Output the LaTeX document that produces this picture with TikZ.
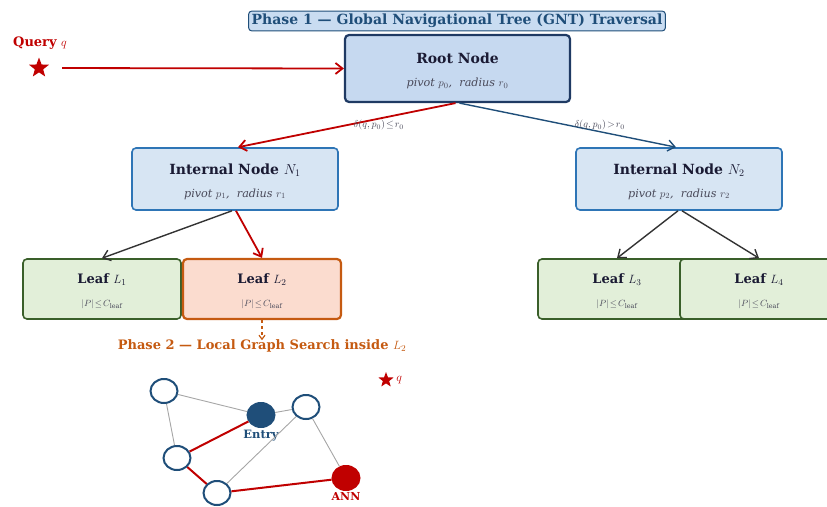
\documentclass[tikz,border=0pt]{standalone}
\usepackage{fontspec}
\setmainfont{DejaVu Serif}
\usepackage{tikz}
\usetikzlibrary{positioning, shapes.geometric, arrows.meta}
\definecolor{navy}{HTML}{1F4E79}
\definecolor{deepnavy}{HTML}{1F3A63}
\definecolor{midblue}{HTML}{2E75B6}
\definecolor{titlefill}{HTML}{C9DCF1}
\definecolor{rootfill}{HTML}{C6D9F0}
\definecolor{intfill}{HTML}{D7E5F3}
\definecolor{leafgreen}{HTML}{3A5F2A}
\definecolor{leaffill}{HTML}{E2EFD9}
\definecolor{hitorange}{HTML}{C55A11}
\definecolor{hitfill}{HTML}{FBDCCF}
\definecolor{qred}{HTML}{C00000}
\definecolor{inktext}{HTML}{1A1A33}
\definecolor{subtext}{HTML}{4A4A5A}
\definecolor{darkline}{HTML}{333333}
\tikzset{
    treenode/.style={draw, rectangle, rounded corners=4pt, align=center, inner sep=0pt},
    titlebox/.style={draw=navy, fill=titlefill, rounded corners=3pt, line width=1pt, text=navy, inner xsep=3pt, inner ysep=3pt, font=\fontsize{14}{16}\selectfont\bfseries},
    rootbox/.style={treenode, fill=rootfill, draw=deepnavy, line width=2.2pt, minimum width=225pt, minimum height=67pt},
    innerbox/.style={treenode, fill=intfill, draw=midblue, line width=1.6pt, minimum width=206pt, minimum height=62pt},
    leafbox/.style={treenode, fill=leaffill, draw=leafgreen, line width=1.6pt, minimum width=158pt, minimum height=60pt},
    hitbox/.style={leafbox, fill=hitfill, draw=hitorange, line width=2.2pt},
    gnode/.style={draw=navy, ellipse, fill=white, line width=2pt, minimum width=27pt, minimum height=24pt, inner sep=0pt},
    qmark/.style={star, star points=5, star point ratio=2.4, fill=qred, inner sep=0pt},
    search/.style = {-{Straight Barb[length=7pt,width=11pt]}, qred, line width=1.8pt},
    descend/.style = {-{Straight Barb[length=7pt,width=11pt]}, line width=1.4pt},
    glink/.style = {gray!70, line width=0.9pt},
    gpath/.style = {qred, line width=2pt},
    cond/.style = {font=\fontsize{10}{11}\selectfont, text=subtext}
}
\newcommand{\boxtext}[2]{{\fontsize{14}{16}\selectfont\bfseries\color{inktext}\rule{0pt}{16pt}#1}\\[11pt]{\fontsize{11.2}{13}\selectfont\itshape\color{subtext}#2}}
\newcommand{\leaftext}[1]{{\fontsize{13}{15}\selectfont\bfseries\color{inktext}\rule{0pt}{14.5pt}Leaf $#1$}\\[11pt]{\fontsize{9.2}{10}\selectfont\color{subtext}$|P|\!\leq\! C_{\mathrm{leaf}}$}}

\begin{document}
\begin{tikzpicture}[x=1pt, y=-1pt]
    \useasboundingbox (0,0) rectangle (827,506);
    \node[titlebox] (T) at (457,21) {Phase 1 — Global Navigational Tree (GNT) Traversal};
    \node[text=qred, font=\fontsize{13}{15}\selectfont\bfseries] (Qlab) at (40,43) {Query $q$};
    \node[qmark, minimum size=21pt] (Q) at (39,68) {};
    % ---- tree
    \node[rootbox] (R) at (457.5,68.5) {\boxtext{Root Node}{pivot $p_0$,~ radius $r_0$}};
    \node[innerbox] (N1) at (235,179) {\boxtext{Internal Node $N_1$}{pivot $p_1$,~ radius $r_1$}};
    \node[innerbox] (N2) at (679,179) {\boxtext{Internal Node $N_2$}{pivot $p_2$,~ radius $r_2$}};
    \node[leafbox] (L1) at (102,289) {\leaftext{L_1}};
    \node[hitbox] (L2) at (262,289) {\leaftext{L_2}};
    \node[leafbox] (L3) at (617,289) {\leaftext{L_3}};
    \node[leafbox] (L4) at (759,289) {\leaftext{L_4}};
    % ----
    \path[search]
        (Q) edge[shorten <=17pt] (R.west)
        ([xshift=-2pt]R.south) edge node[cond, midway, xshift=32pt] {$\delta(q,p_0)\!\leq\! r_0$} ([xshift=3pt]N1.north)
        ([xshift=1pt]N1.south) edge (L2.north);
    \path[descend, navy]
        ([xshift=2pt]R.south) edge node[cond, midway, xshift=32pt] {$\delta(q,p_0)\!>\! r_0$} ([xshift=-3pt]N2.north);
    \path[descend, darkline]
        ([xshift=-3pt]N1.south) edge (L1.north)
        ([xshift=-1pt]N2.south) edge (L3.north)
        ([xshift=3pt]N2.south) edge (L4.north);
    % ---- phase 2
    \node[text=hitorange, font=\fontsize{13}{15}\selectfont\bfseries] (P2) at (262,346) {Phase 2 — Local Graph Search inside $L_2$};
    \draw[dashed, hitorange, line width=1.2pt, -{Straight Barb[length=4pt,width=6pt]}] (L2.south) -- ([yshift=-4pt]P2.north);
    \node[qmark, minimum size=16pt] (q) at (386,380) {};
    \node[right=2pt of q, text=qred, font=\fontsize{12}{14}\selectfont] (qtag) {$q$};
    \node[gnode] (g1) at (164,391) {};
    \node[gnode, fill=navy] (entry) at (261,415) {};
    \node[gnode] (g2) at (306,407) {};
    \node[gnode] (g3) at (177,458) {};
    \node[gnode] (g4) at (217,493) {};
    \node[gnode, draw=qred, fill=qred] (ann) at (346,478) {};
    \node[below=-1pt of entry, text=navy, font=\fontsize{11.5}{13}\selectfont\bfseries] (entrylab) {Entry};
    \node[below=-2pt of ann, text=qred, font=\fontsize{11}{13}\selectfont\bfseries] (annlab) {ANN};
    \path[glink]
        (g1) edge (entry)
        (g1) edge (g3)
        (entry) edge (g2)
        (g2) edge (g4)
        (g2) edge (ann);
    \path[gpath]
        (entry) edge (g3)
        (g3) edge (g4)
        (g4) edge (ann);
\end{tikzpicture}
\end{document}
